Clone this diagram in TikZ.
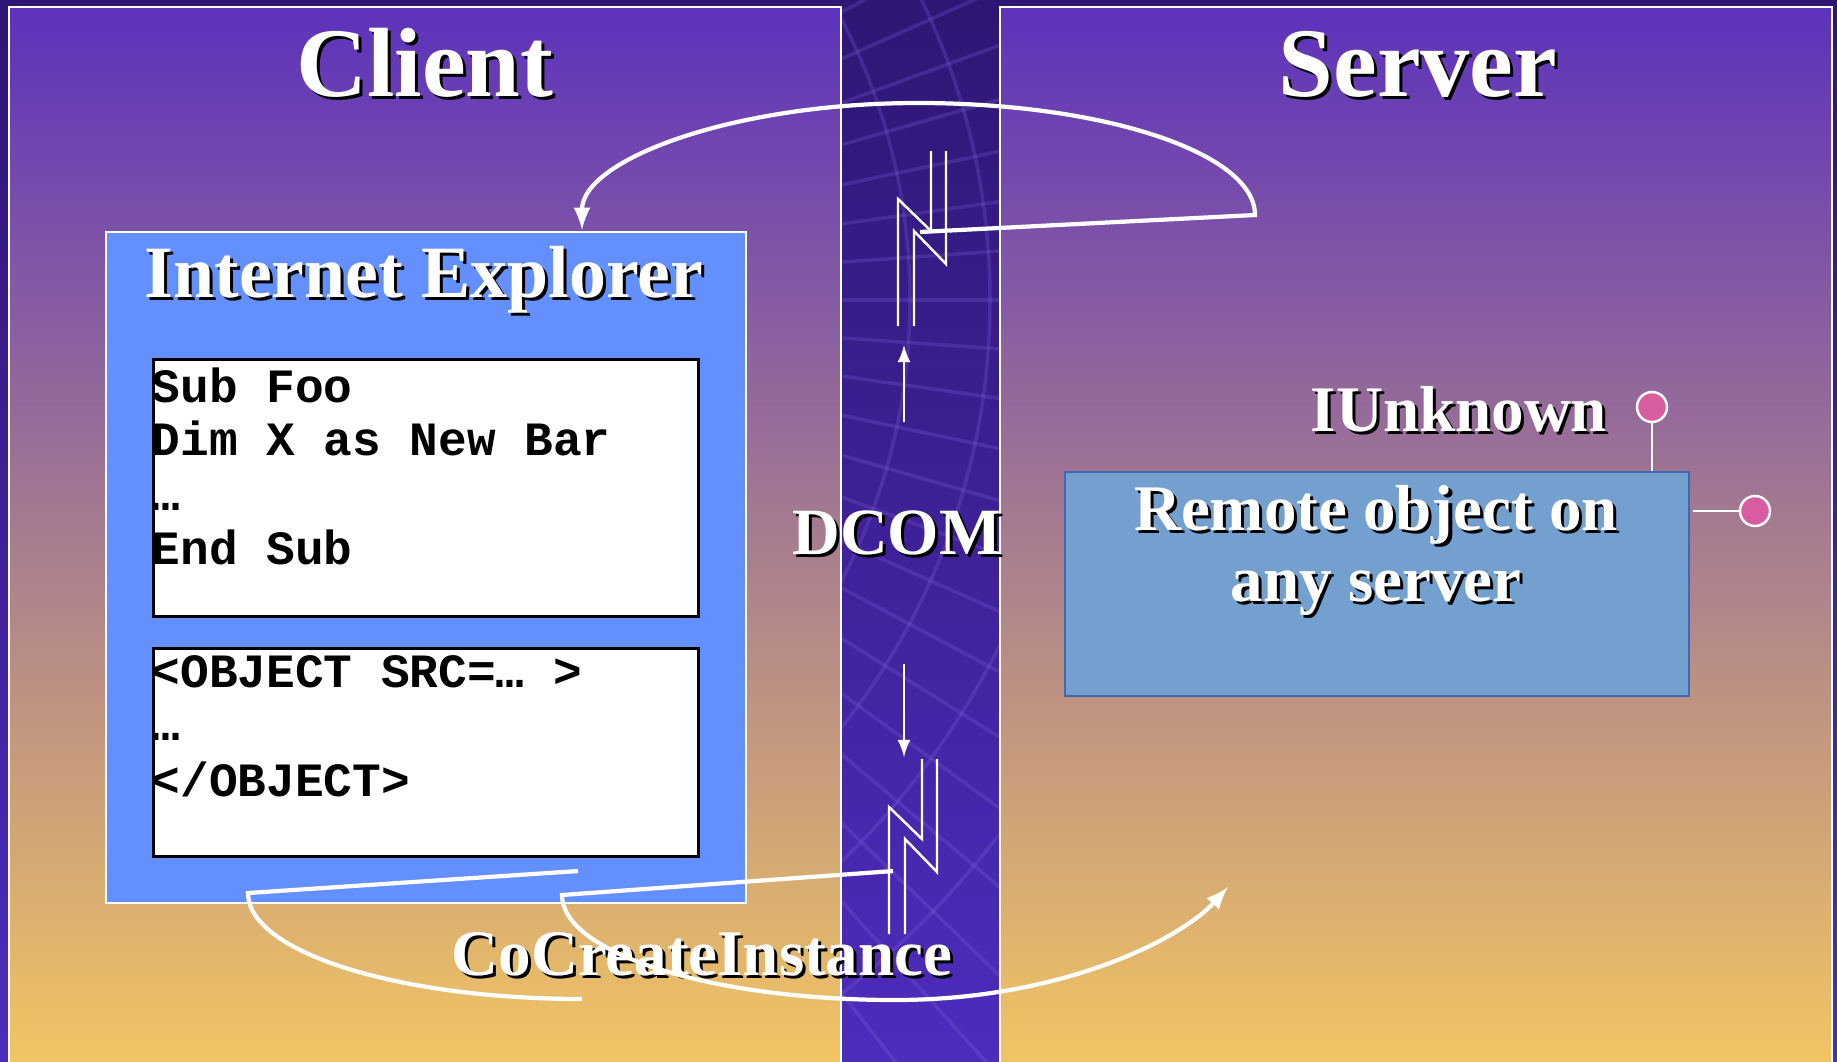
\documentclass[tikz,border=0pt]{standalone}
\usepackage{fontspec}
\setmainfont{Liberation Serif}
\setmonofont{Liberation Mono}
\definecolor{bgdark}{RGB}{46,22,116}
\definecolor{bglight}{RGB}{78,44,188}
\definecolor{stripline}{RGB}{130,100,225}
\definecolor{paneltop}{RGB}{92,50,188}
\definecolor{panelbot}{RGB}{242,198,98}
\definecolor{iefill}{RGB}{100,143,255}
\definecolor{remotefill}{RGB}{116,160,208}
\definecolor{remoteline}{RGB}{60,105,175}
\definecolor{lollipink}{RGB}{216,92,160}
\begin{document}
\begin{tikzpicture}[x=0.1mm,y=-0.1mm]
\tikzset{
  panel/.style={draw=white,line width=0.6pt,top color=paneltop,bottom color=panelbot},
  iebox/.style={draw=white,line width=0.6pt,fill=iefill,inner sep=0pt,anchor=north west},
  codebox/.style={draw=black,line width=0.9pt,fill=white,inner sep=0pt,anchor=north west,minimum width=54.5mm},
  remotebox/.style={draw=remoteline,line width=0.5pt,fill=remotefill,inner sep=0pt,anchor=north west},
  codetxt/.style={font=\fontsize{13.6}{15}\selectfont\ttfamily\bfseries,inner sep=0pt,anchor=base west},
  bigtxt/.style={font=\fontsize{28}{30}\selectfont\bfseries,inner sep=0pt,anchor=base},
  midtxt/.style={font=\fontsize{21}{24}\selectfont\bfseries,inner sep=0pt,anchor=base},
  smalltxt/.style={font=\fontsize{18.5}{20}\selectfont\bfseries,inner sep=0pt,anchor=base},
  wire/.style={white,line width=0.7pt},
  conn/.style={white,line width=1.2pt},
  lolly/.style={circle,draw=white,line width=0.7pt,fill=lollipink,minimum size=3mm,inner sep=0pt}
}
\useasboundingbox (0,0) rectangle (1837,1061);
% Background and the textured strip
\shade[top color=bgdark,bottom color=bglight] (0,0) rectangle (1837,1061);
\begin{scope}
\clip (841,0) rectangle (1000,1061);
\foreach \a in {-40,-36,...,60} {
\draw[stripline,opacity=.25,line width=1pt] (300,300) -- ++(\a:1200);
}
\foreach \r in {61,69,78,88} {
\draw[stripline,opacity=.25,line width=1pt] (300,300) circle (\r mm);
}
\end{scope}
% Client and server panels
\draw[panel] (9,7) rectangle (841,1066);
\draw[panel] (1000,7) rectangle (1832,1066);
% Boxes
\node[iebox,minimum width=64mm,minimum height=67.1mm] (ie) at (105,231) {};
\node[codebox,minimum height=25.7mm] (script) at (152,358) {};
\node[codebox,minimum height=20.8mm] (tag) at (152,647) {};
\node[remotebox,minimum width=62.4mm,minimum height=22.4mm] (remote) at (1064,471) {};
% the code lines
\foreach \y/\t [count=\i] in {402/Sub Foo, 455/Dim X as New Bar, 510/…, 564/End Sub} {
\node[codetxt] (sub\i) at (151,\y) {\t};
}
\foreach \y/\t [count=\i] in {687/{<OBJECT SRC=… >}, 740/…, 796/{</OBJECT>}} {
\node[codetxt] (obj\i) at (151,\y) {\t};
}
% the labels -- shadow first, then white
\foreach \d/\c in {3/black,0/white} {
\begin{scope}[shift={(\d,\d)},text=\c]
\node[bigtxt] (client) at (425,96) {Client};
\node[bigtxt] (server) at (1418,96) {Server};
\node[midtxt] (ietitle) at (424,297) {Internet Explorer};
\node[smalltxt,font=\fontsize{18.8}{20}\selectfont\bfseries] (dcom) at (897,554) {DCOM};
\node[smalltxt] (iunknown) at (1459,431) {IUnknown};
\node[smalltxt,anchor=north,align=center] (remotetxt) at (1376,485) {Remote object on\\any server};
\node[smalltxt] (cocreate) at (702,975) {CoCreateInstance};
\end{scope}
}
% the two lightning wires
\foreach \x/\y [count=\i] in {898/151, 889/759} {
\draw[wire] (\x+33,\y) -- (\x+33,\y+80) -- (\x,\y+48) -- (\x,\y+175);
\draw[wire] (\x+48,\y) -- (\x+48,\y+113) -- (\x+16,\y+80) -- (\x+16,\y+175);
}
% small arrows
\coordinate (upfrom) at (904,422);
\coordinate (upto) at (904,345);
\coordinate (downfrom) at (904,664);
\coordinate (downto) at (904,757);
\draw[wire,-latex] (upfrom) -- (upto);
\draw[wire,-latex] (downfrom) -- (downto);
% the return call over the top
\coordinate (topjoin) at (920,232);
\coordinate (topturn) at (1255,215);
\coordinate (ietop) at (582,230);
\draw[conn,-latex] (topjoin) -- (topturn)
  .. controls (1255,153) and (1104,103) .. (918,103)
  .. controls (732,103) and (582,160) .. (ietop);
% CoCreateInstance calls underneath
\coordinate (iebot) at (578,871);
\coordinate (leftturn) at (248,893);
\coordinate (leftend) at (582,999);
\draw[conn] (iebot) -- (leftturn) .. controls (248,952) and (398,999) .. (leftend);
\coordinate (botjoin) at (893,871);
\coordinate (botturn) at (562,895);
\coordinate (servertip) at (1228,887);
\draw[conn,-latex] (botjoin) -- (botturn)
  .. controls (562,953) and (711,1000) .. (895,1000)
  .. controls (1060,1000) and (1180,940) .. (servertip);
% IUnknown lollipops
\node[lolly] (iu1) at (1652,407) {};
\node[lolly] (iu2) at (1755,511) {};
\draw[wire] (iu1.south) -- (iu1 |- remote.north);
\draw[wire] (iu2.west) -- ++(-46,0);
\end{tikzpicture}
\end{document}
